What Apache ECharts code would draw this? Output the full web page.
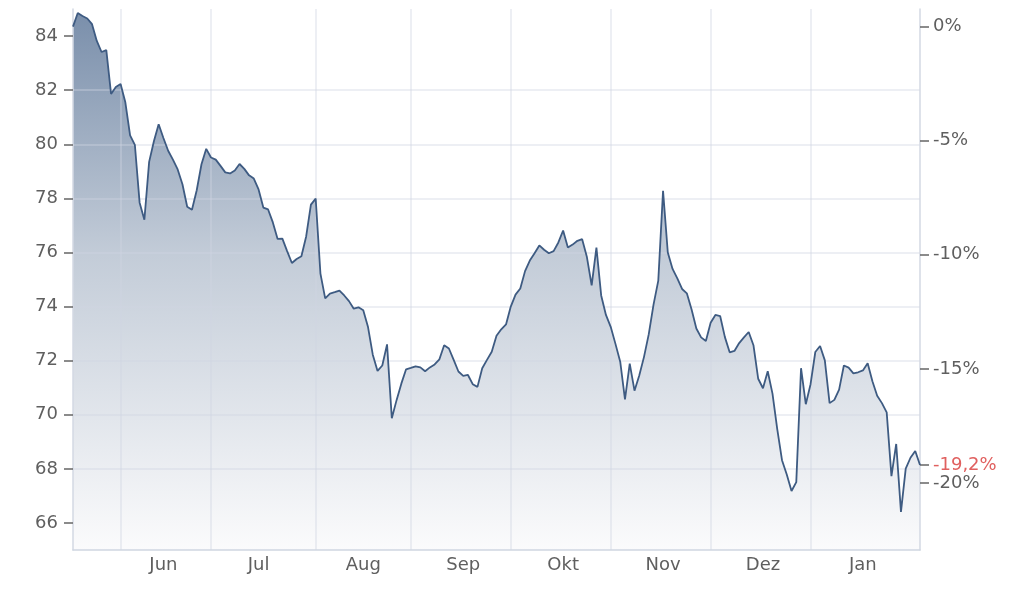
<!DOCTYPE html>
<html><head><meta charset="utf-8">
<script src="https://cdn.jsdelivr.net/npm/echarts@6/dist/echarts.min.js"></script>
<style>html,body{margin:0;padding:0;background:#fff}#c{width:1024px;height:591px}</style>
</head><body><div id="c"></div>
<script>
// Month structure of the category axis (trading days per month)
const monthNames = ['Mai','Jun','Jul','Aug','Sep','Okt','Nov','Dez','Jan'];
const monthCounts = [10,19,22,20,21,21,21,21,24];
const monthLabelIdx = [19,39,61,82,103,124,145,166];

// Closing prices
const prices = [
84.35,84.85,84.74,84.65,84.44,83.82,83.41,83.48,81.86,82.12,
82.23,81.55,80.33,79.98,77.84,77.21,79.35,80.11,80.74,80.23,
79.76,79.43,79.07,78.52,77.69,77.58,78.30,79.26,79.83,79.51,
79.43,79.20,78.96,78.92,79.03,79.27,79.09,78.85,78.73,78.33,
77.66,77.59,77.11,76.50,76.51,76.05,75.61,75.76,75.86,76.59,
77.77,77.99,75.22,74.30,74.48,74.53,74.59,74.41,74.20,73.92,
73.97,73.86,73.24,72.22,71.62,71.82,72.60,69.87,70.54,71.15,
71.68,71.73,71.79,71.75,71.61,71.75,71.86,72.05,72.57,72.45,
72.03,71.60,71.44,71.47,71.13,71.03,71.72,72.03,72.33,72.92,
73.16,73.34,74.00,74.44,74.67,75.31,75.70,75.97,76.26,76.10,
75.97,76.05,76.37,76.81,76.18,76.29,76.43,76.49,75.83,74.78,
76.18,74.41,73.69,73.25,72.62,71.96,70.57,71.89,70.89,71.45,
72.14,72.98,74.07,74.96,78.28,76.00,75.39,75.04,74.65,74.49,
73.89,73.19,72.86,72.73,73.40,73.69,73.65,72.87,72.31,72.36,
72.65,72.86,73.06,72.57,71.33,70.98,71.61,70.78,69.47,68.32,
67.79,67.18,67.51,71.72,70.39,71.13,72.32,72.54,72.01,70.43,
70.55,70.93,71.82,71.74,71.53,71.57,71.64,71.90,71.24,70.70,
70.43,70.09,67.73,68.92,66.41,68.01,68.41,68.66,68.14
];

const leftTicks = [66,68,70,72,74,76,78,80,82,84];
const rightTicks = [0,-5,-10,-15,-20];
const yMin = 65, yMax = 85;

// build categories and month boundary indices
const categories = [];
const monthStartIdx = [];
monthNames.forEach((m, k) => {
  if (k > 0) monthStartIdx.push(categories.length);
  for (let j = 0; j < monthCounts[k]; j++) categories.push(m);
});

const base = prices[0];
const lastPct = (prices[prices.length - 1] / base - 1) * 100;
const fmtPct = v => (Math.round(v * 10) / 10).toString().replace('.', ',') + '%';

const FONT = 'DejaVu Sans';
const LABEL_COLOR = '#5f5f5f';
const GRID_COLOR = 'rgba(208,214,227,0.5)';
const FS = 18;

const chart = echarts.init(document.getElementById('c'), null, {renderer: 'canvas'});
chart.setOption({
  animation: false,
  backgroundColor: '#ffffff',
  grid: {left: 73, right: 104, top: 9, bottom: 41, containLabel: false},
  xAxis: {
    type: 'category',
    z: 3,
    data: categories,
    boundaryGap: false,
    axisLine: {show: true, onZero: false, lineStyle: {color: '#cfd6e1', width: 1.5}},
    axisTick: {show: false},
    axisLabel: {
      interval: (i) => monthLabelIdx.includes(i),
      color: LABEL_COLOR, fontFamily: FONT, fontSize: FS, margin: 6
    },
    splitLine: {
      show: true,
      interval: (i) => monthStartIdx.includes(i),
      lineStyle: {color: GRID_COLOR, width: 1.5}
    }
  },
  yAxis: [{
    type: 'value',
    z: 3,
    min: yMin, max: yMax,
    splitNumber: 10,
    position: 'left',
    axisLine: {show: true, lineStyle: {color: '#d3d9e3', width: 1.5}},
    axisTick: {show: true, length: 9, customValues: leftTicks, lineStyle: {color: '#666', width: 1.5}},
    axisLabel: {customValues: leftTicks, color: LABEL_COLOR, fontFamily: FONT, fontSize: FS, margin: 15},
    splitLine: {show: true, showMinLine: false, showMaxLine: false, lineStyle: {color: GRID_COLOR, width: 1.5}}
  }, {
    type: 'value',
    z: 3,
    min: (yMin / base - 1) * 100,
    max: (yMax / base - 1) * 100,
    position: 'right',
    axisLine: {show: true, lineStyle: {color: '#d3d9e3', width: 1.5}},
    axisTick: {show: true, length: 9, customValues: rightTicks.concat([lastPct]), lineStyle: {color: '#666', width: 1.5}},
    axisLabel: {
      customValues: rightTicks.concat([lastPct]),
      color: LABEL_COLOR, fontFamily: FONT, fontSize: FS, margin: 13,
      formatter: (v) => Math.abs(v - lastPct) < 1e-6 ? '{r|' + fmtPct(v) + '}' : fmtPct(v),
      rich: {r: {color: '#e0605f', fontFamily: FONT, fontSize: FS}}
    },
    splitLine: {show: false}
  }],
  series: [{
    type: 'line',
    z: 1,
    data: prices,
    yAxisIndex: 0,
    symbol: 'none',
    lineStyle: {width: 0, opacity: 0},
    areaStyle: {
      opacity: 1,
      color: new echarts.graphic.LinearGradient(0, 0, 0, 1, [
        {offset: 0, color: '#7a8fab'},
        {offset: 0.45, color: '#c3ccd8'},
        {offset: 1, color: '#fbfbfc'}
      ])
    }
  }, {
    type: 'line',
    z: 5,
    data: prices,
    yAxisIndex: 0,
    symbol: 'none',
    lineStyle: {color: '#3e5b82', width: 1.8}
  }]
});
</script></body></html>
